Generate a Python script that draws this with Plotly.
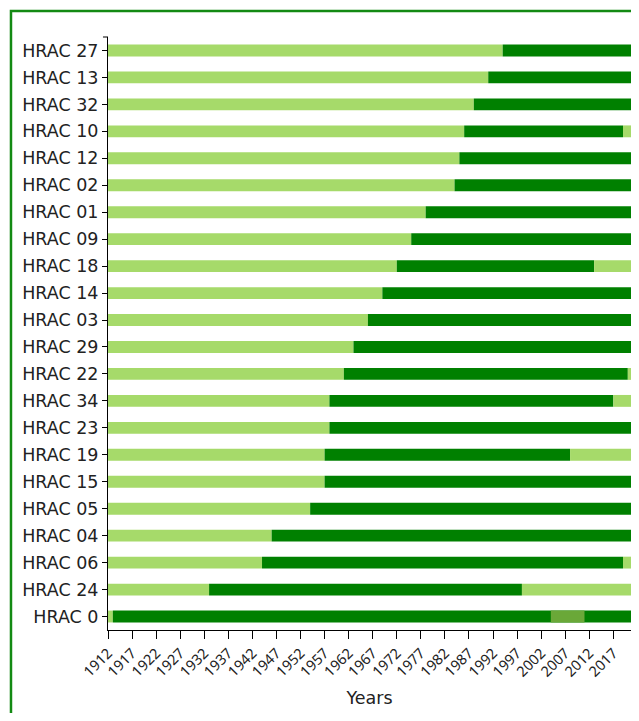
import plotly.graph_objects as go

# HRAC groups, top to bottom as drawn
groups = ["HRAC 27", "HRAC 13", "HRAC 32", "HRAC 10", "HRAC 12", "HRAC 02",
          "HRAC 01", "HRAC 09", "HRAC 18", "HRAC 14", "HRAC 03", "HRAC 29",
          "HRAC 22", "HRAC 34", "HRAC 23", "HRAC 19", "HRAC 15", "HRAC 05",
          "HRAC 04", "HRAC 06", "HRAC 24", "HRAC 0"]
# year the group came into use (light -> dark)
start_year = [1994, 1991, 1988, 1986, 1985, 1984,
              1978, 1975, 1972, 1969, 1966, 1963,
              1961, 1958, 1958, 1957, 1957, 1954,
              1946, 1944, 1933, 1913]
# year the use ended (dark -> light), 2022 = still in use
end_year = [2022, 2022, 2022, 2019, 2022, 2022,
            2022, 2022, 2013, 2022, 2022, 2022,
            2020, 2017, 2022, 2008, 2022, 2022,
            2022, 2019, 1998, 2022]
# HRAC 0 has an interruption
gap_group = ["HRAC 0"]
gap_start = [2004]
gap_end = [2011]

first_year = 1912
last_year = 2022
view_end = 2020.66   # the original is cut off at the right edge of the window
tick_years = list(range(1912, 2023, 5))

light = "#a6da6a"
dark = "#008000"
olive = "#6aa838"

fig = go.Figure()
bar_w = 0.44
line = dict(width=0)

# before use
fig.add_trace(go.Bar(y=groups, x=[s - first_year for s in start_year], base=first_year,
                     orientation="h", marker=dict(color=light, line=line), width=bar_w))
# in use
fig.add_trace(go.Bar(y=groups, x=[e - s for s, e in zip(start_year, end_year)], base=start_year,
                     orientation="h", marker=dict(color=dark, line=line), width=bar_w))
# after use
fig.add_trace(go.Bar(y=groups, x=[last_year - e for e in end_year], base=end_year,
                     orientation="h", marker=dict(color=light, line=line), width=bar_w))
# interruption
fig.add_trace(go.Bar(y=gap_group, x=[e - s for s, e in zip(gap_start, gap_end)], base=gap_start,
                     orientation="h", marker=dict(color=olive, line=line), width=bar_w))

# page body adds 8px, so the figure is sized to fit inside the window
fig.update_layout(
    width=623, height=705,
    margin=dict(l=100, r=0, t=29, b=83),
    plot_bgcolor="white", paper_bgcolor="white",
    barmode="overlay", showlegend=False,
    font=dict(family="DejaVu Sans", color="#222"),
    shapes=[dict(type="rect", xref="paper", yref="paper",
                 x0=-0.1855, x1=1.2, y0=-0.3, y1=1.044,
                 line=dict(color="#138a13", width=2.5), fillcolor="rgba(0,0,0,0)"),
            dict(type="line", xref="paper", yref="paper",
                 x0=-0.0096, x1=0, y0=1, y1=1, line=dict(color="black", width=1))],
)
fig.update_xaxes(range=[first_year, view_end], tickvals=tick_years, tickangle=-45,
                 automargin=False,
                 showgrid=False, zeroline=False, showline=True, linecolor="black", linewidth=1,
                 ticks="outside", ticklen=8, tickcolor="black",
                 tickfont=dict(family="Noto Sans", size=14.5),
                 title=dict(text="Years", font=dict(size=17.5), standoff=12))
fig.update_yaxes(categoryorder="array", categoryarray=groups[::-1], range=[-0.5, len(groups) - 0.5],
                 automargin=False,
                 showgrid=False, showline=True, linecolor="black", linewidth=1,
                 ticks="outside", ticklen=5, tickcolor="black", tickfont=dict(size=17.5))

fig.write_html("out.html")
